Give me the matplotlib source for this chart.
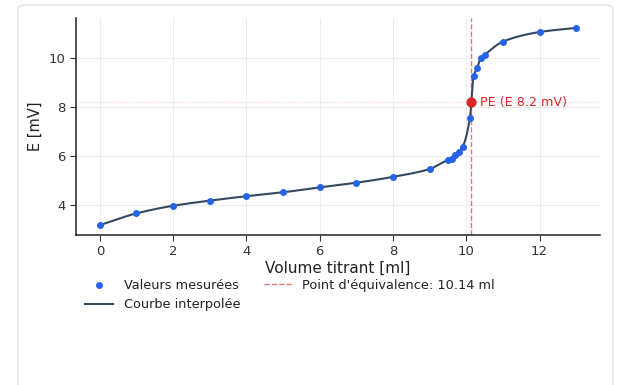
import numpy as np
import matplotlib
matplotlib.use("Agg")
import matplotlib.pyplot as plt
from matplotlib.patches import FancyBboxPatch

# Data
volume = [0, 1, 2, 3, 4, 5, 6, 7, 8, 9, 9.5, 9.6, 9.7, 9.8, 9.9,
          10.1, 10.2, 10.3, 10.4, 10.5, 11, 12, 13]
potential = [3.18, 3.66, 3.97, 4.18, 4.36, 4.52, 4.72, 4.91, 5.15, 5.47, 5.83, 5.87,
             6.03, 6.17, 6.37, 7.56, 9.26, 9.60, 10.01, 10.13, 10.67, 11.06, 11.23]
eq_volume = 10.14
eq_potential = 8.2

label_points = "Valeurs mesurées"
label_curve = "Courbe interpolée"
label_eq = f"Point d'équivalence: {eq_volume:.2f} ml"
label_pe = f"PE (E {eq_potential:.1f} mV)"


def pchip(x, y, xn):
    x = np.asarray(x, float); y = np.asarray(y, float)
    h = np.diff(x); d = np.diff(y) / h
    n = len(x); m = np.zeros(n)
    for k in range(1, n - 1):
        if d[k - 1] * d[k] > 0:
            w1 = 2 * h[k] + h[k - 1]; w2 = h[k] + 2 * h[k - 1]
            m[k] = (w1 + w2) / (w1 / d[k - 1] + w2 / d[k])
    m[0] = d[0]; m[-1] = d[-1]
    idx = np.clip(np.searchsorted(x, xn) - 1, 0, n - 2)
    t = (xn - x[idx]) / h[idx]
    h00 = 2 * t**3 - 3 * t**2 + 1; h10 = t**3 - 2 * t**2 + t
    h01 = -2 * t**3 + 3 * t**2; h11 = t**3 - t**2
    return h00 * y[idx] + h10 * h[idx] * m[idx] + h01 * y[idx + 1] + h11 * h[idx] * m[idx + 1]


fig = plt.figure(figsize=(6.17, 3.85), dpi=100)
card = FancyBboxPatch((18 / 617, -0.05), (613 - 18) / 617, 1 - 5 / 385 + 0.05,
                      boxstyle="round,pad=0,rounding_size=0.012",
                      transform=fig.transFigure, facecolor="white",
                      edgecolor="#e3e3e3", linewidth=1.0, zorder=-10)
fig.patches.append(card)

ax = fig.add_axes([76 / 617, 1 - 235 / 385, (600 - 76) / 617, (235 - 18) / 385])
ax.set_facecolor("none")

xs = np.linspace(min(volume), max(volume), 800)
ys = pchip(volume, potential, xs)

ax.scatter(volume, potential, s=16, color="#2563eb", zorder=3, label=label_points)
ax.plot(xs, ys, color="#34495e", lw=1.5, zorder=2, label=label_curve)
ax.axvline(eq_volume, color="#e05555", ls="--", lw=1.0, alpha=0.8, label=label_eq, zorder=1)
ax.axhline(eq_potential, color="#e05555", ls=":", lw=0.8, alpha=0.3, zorder=1)
ax.scatter([eq_volume], [eq_potential], s=40, color="#dc2626", zorder=4)
ax.annotate(label_pe, (eq_volume, eq_potential), xytext=(6.5, 0), textcoords="offset points",
            color="#dc2626", fontsize=9.2, va="center", ha="left")

ax.grid(True, color="#e8e8e8", lw=0.7, alpha=0.8)
ax.set_axisbelow(True)
for s in ["top", "right"]:
    ax.spines[s].set_visible(False)
for s in ["left", "bottom"]:
    ax.spines[s].set_color("#222222")
    ax.spines[s].set_linewidth(1.1)
ax.tick_params(colors="#333333", labelsize=9.5, length=4)
ax.set_xticks([0, 2, 4, 6, 8, 10, 12])
ax.set_yticks([4, 6, 8, 10])
ax.set_xlabel("Volume titrant [ml]", fontsize=11, color="#222222", labelpad=2)
ax.set_ylabel("E [mV]", fontsize=10.5, color="#222222")

h, l = ax.get_legend_handles_labels()
order = [l.index(label_points), l.index(label_curve), l.index(label_eq)]
ax.legend([h[i] for i in order], [l[i] for i in order], ncol=2, frameon=False,
          loc="upper left", bbox_to_anchor=(0.0, -0.16), fontsize=9.3,
          labelcolor="#222222", columnspacing=1.8, handlelength=2.2, borderaxespad=0.3)

fig.savefig("out.png", dpi=100)
